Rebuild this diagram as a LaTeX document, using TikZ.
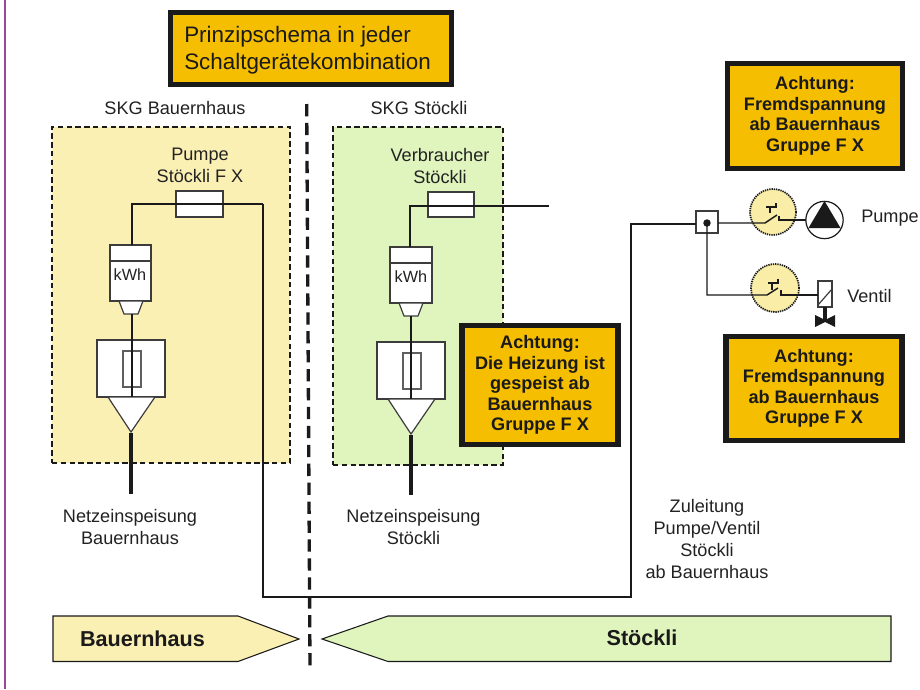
\documentclass[tikz,border=0pt]{standalone}
\usepackage{fontspec}
\setmainfont{Liberation Sans}
\usetikzlibrary{calc}
\definecolor{warn}{HTML}{F5BE00}
\definecolor{ink}{HTML}{1A1A1A}
\definecolor{txt}{HTML}{222222}
\definecolor{yel}{HTML}{FBF0B4}
\definecolor{grn}{HTML}{E0F4BE}
\definecolor{pur}{HTML}{97479E}
\definecolor{sw}{HTML}{F9EDA8}
\tikzset{
 px/.style={x=0.75pt,y=-0.75pt},
 sized/.style 2 args={minimum width=#1*0.75pt,minimum height=#2*0.75pt,inner sep=0pt,outer sep=0pt},
 warnbox/.style={draw=ink,line width=4.1pt,fill=warn,inner sep=0pt,outer sep=0pt,align=center,font=\fontsize{13.6}{15.4}\selectfont\bfseries,text=ink},
 lab/.style={align=center,font=\fontsize{13.6}{16.5}\selectfont,text=txt,inner sep=0pt},
 skg/.style={draw=ink,line width=1.3pt,dash pattern=on 4pt off 2.6pt,inner sep=0pt,outer sep=0pt},
 part/.style={draw=ink!85,line width=0.9pt,fill=white,inner sep=0pt,outer sep=0pt},
 wire/.style={draw=ink,line width=1.1pt},
 tick/.style={draw=ink,line width=0.9pt},
 feed/.style={draw=ink,line width=2.4pt},
 relay/.style={circle,draw=ink,line width=1.3pt,dash pattern=on 1pt off 0.7pt,fill=sw,inner sep=0pt,outer sep=0pt},
 band/.style={draw=ink,line width=0.8pt},
 kwh/.style={font=\fontsize{12.2}{14}\selectfont,text=txt,inner sep=0pt},
 bandtxt/.style={font=\fontsize{16.2}{18}\selectfont\bfseries,text=ink,inner sep=0pt},
}
\begin{document}
\begin{tikzpicture}[px]
\useasboundingbox (0,0) rectangle (920,689);
\fill[white] (0,0) rectangle (920,689);
\coordinate (purA) at (5,0); \coordinate (purB) at (5,689);
\draw[pur,line width=1.1pt] (purA) -- (purB);

% SKG boxes
\node[skg,fill=yel,sized={238}{336},anchor=north west] (skgA) at (52,127) {};
\node[skg,fill=grn,sized={170}{338},anchor=north west] (skgB) at (333,127) {};
\node[lab] (tA) at (175,108) {SKG Bauernhaus};
\node[lab] (tB) at (419,108) {SKG Stöckli};

% Left feed
\node[part,sized={47}{26},anchor=north west] (fuseA) at (176,191) {};
\node[part,sized={41}{56},anchor=north west] (mA) at (110,245) {};
\coordinate (mAa) at (110,261); \coordinate (mAb) at (151,261);
\draw[part] (mAa) -- (mAb);
\node[kwh] (kA) at (130,275) {kWh};
\filldraw[part] (119,301) -- (143,301) -- (138,314) -- (124,314) -- cycle;
\node[part,sized={68}{57},anchor=north west] (bA) at (97,340) {};
\node[part,draw=ink!70,sized={18}{36},anchor=north west] (iA) at (123,351) {};
\filldraw[part] (108,397) -- (155,397) -- (131,432) -- cycle;
\coordinate (mAt) at (132,245);
\coordinate (cA) at (132,204);
\coordinate (rA) at (263,204);
\coordinate (mAo) at (132,314);
\coordinate (bAo) at (132,397);
\coordinate (thA) at (131,433);
\coordinate (thAe) at (131,494);
\draw[wire] (mAt) -- (cA) -- (rA);
\draw[wire] (mAo) -- (bAo);
\draw[feed] (thA) -- (thAe);

% Right feed
\node[part,sized={46}{25},anchor=north west] (fuseB) at (428,192) {};
\node[part,sized={42}{56},anchor=north west] (mB) at (390,247) {};
\coordinate (mBa) at (390,263); \coordinate (mBb) at (432,263);
\draw[part] (mBa) -- (mBb);
\node[kwh] (kB) at (411,277) {kWh};
\filldraw[part] (399,303) -- (423,303) -- (418,316) -- (404,316) -- cycle;
\node[part,sized={68}{57},anchor=north west] (bB) at (377,342) {};
\node[part,draw=ink!70,sized={18}{36},anchor=north west] (iB) at (403,353) {};
\filldraw[part] (388,399) -- (435,399) -- (411,434) -- cycle;
\coordinate (mBt) at (410,247);
\coordinate (cB) at (410,206);
\coordinate (rB) at (549,206);
\coordinate (mBo) at (411,316);
\coordinate (bBo) at (411,399);
\coordinate (thB) at (411,435);
\coordinate (thBe) at (411,495);
\draw[wire] (mBt) -- (cB) -- (rB);
\draw[wire] (mBo) -- (bBo);
\draw[feed] (thB) -- (thBe);

% Labels
\node[lab] (lA) at (200,165) {Pumpe\\Stöckli F X};
\node[lab] (lB) at (440,166) {Verbraucher\\Stöckli};
\node[lab] (nA) at (130,527) {Netzeinspeisung\\Bauernhaus};
\node[lab] (nB) at (413.5,527) {Netzeinspeisung\\Stöckli};
\node[lab] (zu) at (707,539) {Zuleitung\\Pumpe/Ventil\\Stöckli\\ab Bauernhaus};

% Separator
\coordinate (sepA) at (306.7,104); \coordinate (sepB) at (310,669);
\draw[ink,line width=2.5pt,dash pattern=on 9.2pt off 5pt] (sepA) -- (sepB);

% Right equipment
\node[part,sized={22}{22},anchor=north west] (junc) at (696,211) {};
\coordinate (dot) at (707,223);
\coordinate (k1) at (263,597);
\coordinate (k2) at (631,597);
\coordinate (k3) at (631,224);
\draw[wire] (rA) -- (k1) -- (k2) -- (k3) -- (junc.west |- k3);
\node[relay,minimum size=34.5pt] (r1) at (773,212) {};
\node[relay,minimum size=36pt] (r2) at (775,288) {};
\node[circle,draw=ink,line width=0.9pt,fill=white,minimum size=28pt,inner sep=0pt,outer sep=0pt] (pump) at (824.5,220) {};
\fill[ink] (824.5,201) -- (840.5,228) -- (808.5,228) -- cycle;
\node[part,sized={14}{26},anchor=north west] (valve) at (818,281) {};
\coordinate (va) at (818,305); \coordinate (vb) at (832,289);
\draw[part] (va) -- (vb);
\coordinate (vs1) at (825,307); \coordinate (vs2) at (825,321);
\draw[ink,line width=3.6pt] (vs1) -- (vs2);
\fill[ink] (815,315) -- (825,320) -- (835,315) -- (835,327) -- (825,322) -- (815,327) -- cycle;
% relay wiring
\coordinate (s1a) at (765,223); \coordinate (s1b) at (777,215);
\coordinate (s1c) at (779,216); \coordinate (s1d) at (779,220);
\draw[wire] (junc.east |- dot) -- (s1a) -- (s1b);
\draw[wire] (s1c) -- (s1d) -- (pump.west |- s1d);
\coordinate (s2a) at (767,295); \coordinate (s2b) at (778,288);
\coordinate (s2c) at (781,290); \coordinate (s2d) at (781,295);
\coordinate (s2k) at (707,295);
\draw[wire] (dot) -- (s2k) -- (s2a) -- (s2b);
\draw[wire] (s2c) -- (s2d) -- (valve.west |- s2d);
\coordinate (a1) at (766,207); \coordinate (a2) at (776,207); \coordinate (a3) at (776,203);
\coordinate (a4) at (770,207); \coordinate (a5) at (770,213);
\draw[tick] (a1) -- (a2) -- (a3) (a4) -- (a5);
\coordinate (b1) at (768,283); \coordinate (b2) at (778,283); \coordinate (b3) at (778,279);
\coordinate (b4) at (772,283); \coordinate (b5) at (772,290);
\draw[tick] (b1) -- (b2) -- (b3) (b4) -- (b5);
\fill[ink] (dot) circle (2.8pt);

\node[lab,anchor=west] (pl) at (861,218) {Pumpe};
\node[lab,anchor=west] (vl) at (847,296) {Ventil};

% Warning boxes
\node[warnbox,sized={280.5}{71.5}] (title) at (311,48.5) {};
\node[anchor=west,align=left,inner sep=0pt,text=ink,font=\fontsize{16.8}{20.4}\selectfont] (titleT) at (184,50) {Prinzipschema in jeder\\Schaltgerätekombination};
\node[warnbox,sized={175}{104.5}] (w1) at (815,116) {Achtung:\\Fremdspannung\\ab Bauernhaus\\Gruppe F X};
\node[warnbox,sized={156}{118.5}] (w2) at (540,385) {Achtung:\\Die Heizung ist\\gespeist ab\\Bauernhaus\\Gruppe F X};
\node[warnbox,sized={176}{103.5}] (w3) at (814,388.5) {Achtung:\\Fremdspannung\\ab Bauernhaus\\Gruppe F X};

% Bands
\filldraw[band,fill=yel] (53,616) -- (238,616) -- (299,639) -- (238,661.5) -- (53,661.5) -- cycle;
\filldraw[band,fill=grn] (322,639) -- (388,616) -- (891,616) -- (891,661.5) -- (388,661.5) -- cycle;
\node[bandtxt] (bh) at (142.5,639) {Bauernhaus};
\node[bandtxt] (st) at (642,638) {Stöckli};
\end{tikzpicture}
\end{document}
